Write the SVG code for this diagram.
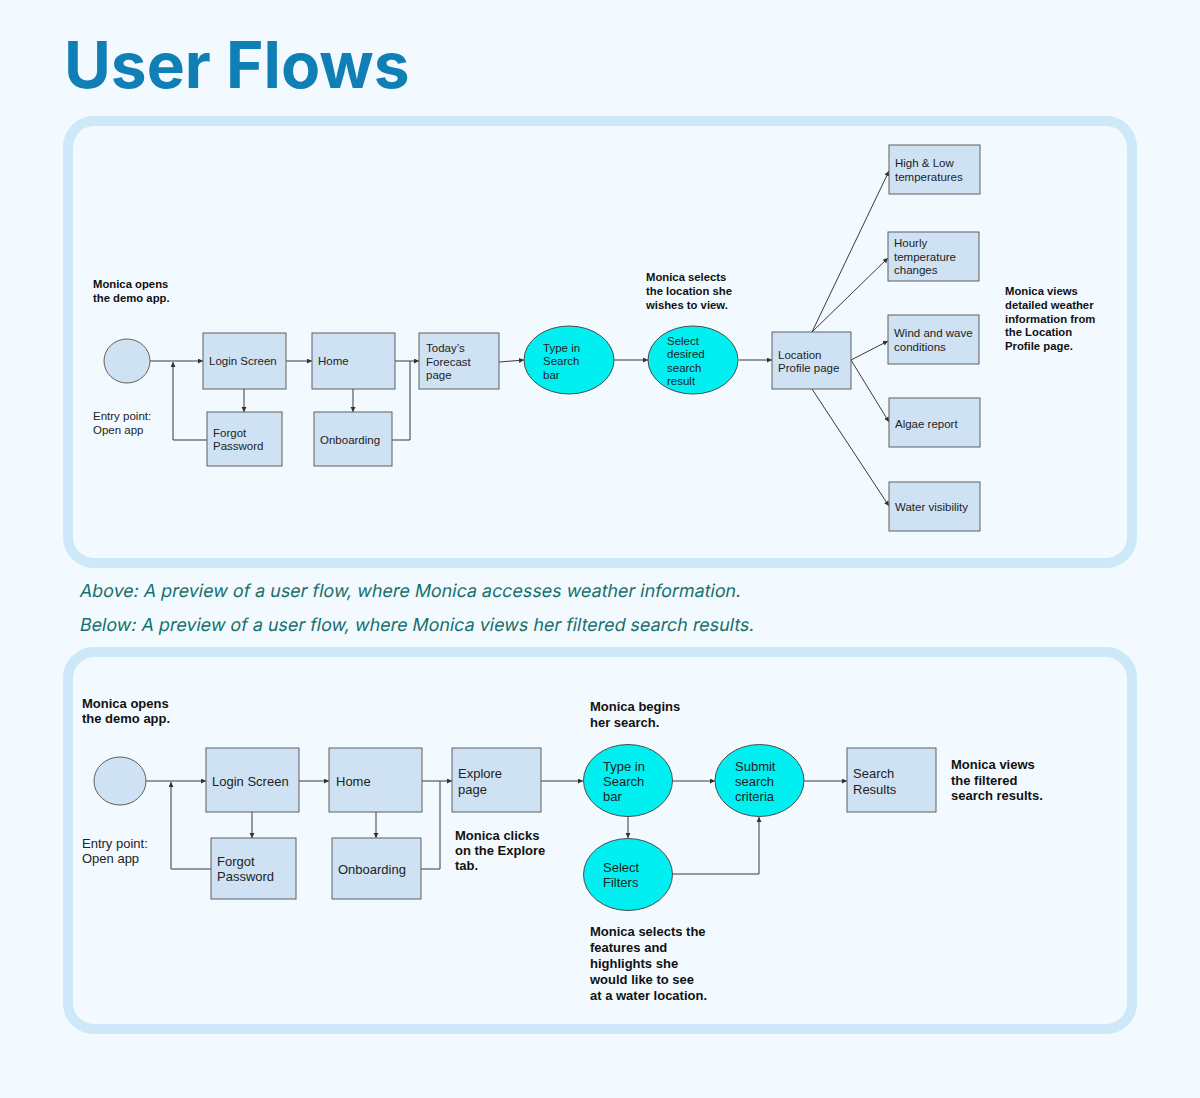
<svg xmlns="http://www.w3.org/2000/svg" width="1200" height="1098" viewBox="0 0 1200 1098">
<defs>
<marker id="arr" markerUnits="userSpaceOnUse" markerWidth="6" markerHeight="6" refX="5" refY="2.5" orient="auto">
<path d="M0,0 L5,2.5 L0,5 z" fill="#333"/>
</marker>
<style>
.panel{fill:#f3faff;stroke:#cde8f6;stroke-width:10}
.box{fill:#cfe2f3;stroke:#5f5f5f;stroke-width:1}
.oval{fill:#00f0f2;stroke:#4a4a4a;stroke-width:1}
.start{fill:#cfe2f3;stroke:#5f5f5f;stroke-width:1}
.c{fill:none;stroke:#3a3a3a;stroke-width:1}
.ca{fill:none;stroke:#3a3a3a;stroke-width:1;marker-end:url(#arr)}
.t{font-family:"Liberation Sans",Arial,sans-serif;font-size:11.5px;fill:#222}
.tb{font-family:"Liberation Sans",Arial,sans-serif;font-size:11.3px;font-weight:bold;fill:#111}
.t2{font-family:"Liberation Sans",Arial,sans-serif;font-size:13px;fill:#222}
.tb2{font-family:"Liberation Sans",Arial,sans-serif;font-size:13px;font-weight:bold;fill:#111}
.cap{font-family:Inter,"Noto Sans",sans-serif;font-size:17.9px;fill:#17706c}
</style>
</defs>
<rect width="1200" height="1098" fill="#f3faff"/>
<text x="64" y="88" font-family="Inter,'Noto Sans',sans-serif" font-size="64" font-weight="bold" fill="#107fb5">User Flows</text>

<rect class="panel" x="68" y="121" width="1064" height="442" rx="26"/>
<rect class="panel" x="68" y="652" width="1064" height="377" rx="26"/>

<text class="cap" transform="translate(79,597) skewX(-11)">Above: A preview of a user flow, where Monica accesses weather information.</text>
<text class="cap" transform="translate(79,631) skewX(-11)">Below: A preview of a user flow, where Monica views her filtered search results.</text>

<!-- Top flow connectors -->
<g id="connectors-top">
<path class="ca" d="M149,361 H203"/>
<path class="ca" d="M207,440 H173 V362"/>
<path class="ca" d="M286,361 H312"/>
<path class="ca" d="M244,389 V412"/>
<path class="ca" d="M395,361 H419"/>
<path class="ca" d="M353,389 V412"/>
<path class="c" d="M392,440 H410 V361"/>
<path class="ca" d="M499,362 L524,360"/>
<path class="ca" d="M614,360 H648"/>
<path class="ca" d="M739,360 H772"/>
<path class="ca" d="M812,332 L889,171"/>
<path class="ca" d="M812,332 L888,258"/>
<path class="ca" d="M851,360 L888,341"/>
<path class="ca" d="M851,360 L889,422"/>
<path class="ca" d="M812,389 L889,506"/>
</g>

<g id="t-start"><ellipse class="start" cx="127" cy="361" rx="23" ry="22"/></g>
<g id="t-note-open"><text class="tb" x="93" y="288">Monica opens</text><text class="tb" x="93" y="302">the demo app.</text></g>
<g id="t-note-entry"><text class="t" x="93" y="420">Entry point:</text><text class="t" x="93" y="434">Open app</text></g>
<g id="t-login"><rect class="box" x="203" y="333" width="83" height="56"/><text class="t" x="209" y="365">Login Screen</text></g>
<g id="t-home"><rect class="box" x="312" y="333" width="83" height="56"/><text class="t" x="318" y="365">Home</text></g>
<g id="t-forecast"><rect class="box" x="419" y="333" width="80" height="56"/><text class="t" x="426" y="352">Today’s</text><text class="t" x="426" y="366">Forecast</text><text class="t" x="426" y="379">page</text></g>
<g id="t-forgot"><rect class="box" x="207" y="412" width="75" height="54"/><text class="t" x="213" y="437">Forgot</text><text class="t" x="213" y="450">Password</text></g>
<g id="t-onboarding"><rect class="box" x="314" y="412" width="78" height="54"/><text class="t" x="320" y="444">Onboarding</text></g>
<g id="t-typein"><ellipse class="oval" cx="569" cy="360" rx="45" ry="34"/><text class="t" x="543" y="352">Type in</text><text class="t" x="543" y="365">Search</text><text class="t" x="543" y="379">bar</text></g>
<g id="t-select"><ellipse class="oval" cx="693" cy="360" rx="45" ry="34"/><text class="t" x="667" y="345">Select</text><text class="t" x="667" y="358">desired</text><text class="t" x="667" y="372">search</text><text class="t" x="667" y="385">result</text></g>
<g id="t-note-select"><text class="tb" x="646" y="281">Monica selects</text><text class="tb" x="646" y="295">the location she</text><text class="tb" x="646" y="309">wishes to view.</text></g>
<g id="t-location"><rect class="box" x="772" y="332" width="79" height="57"/><text class="t" x="778" y="359">Location</text><text class="t" x="778" y="372">Profile page</text></g>
<g id="t-highlow"><rect class="box" x="889" y="145" width="91" height="49"/><text class="t" x="895" y="167">High &amp; Low</text><text class="t" x="895" y="181">temperatures</text></g>
<g id="t-hourly"><rect class="box" x="888" y="232" width="91" height="49"/><text class="t" x="894" y="247">Hourly</text><text class="t" x="894" y="261">temperature</text><text class="t" x="894" y="274">changes</text></g>
<g id="t-wind"><rect class="box" x="888" y="315" width="91" height="49"/><text class="t" x="894" y="337">Wind and wave</text><text class="t" x="894" y="351">conditions</text></g>
<g id="t-algae"><rect class="box" x="889" y="398" width="91" height="49"/><text class="t" x="895" y="428">Algae report</text></g>
<g id="t-water"><rect class="box" x="889" y="482" width="91" height="49"/><text class="t" x="895" y="511">Water visibility</text></g>
<g id="t-note-views"><text class="tb" x="1005" y="295">Monica views</text><text class="tb" x="1005" y="309">detailed weather</text><text class="tb" x="1005" y="323">information from</text><text class="tb" x="1005" y="336">the Location</text><text class="tb" x="1005" y="350">Profile page.</text></g>

<!-- Bottom flow connectors -->
<g id="connectors-bottom">
<path class="ca" d="M146,781 H206"/>
<path class="ca" d="M211,869 H171 V782"/>
<path class="ca" d="M299,781 H329"/>
<path class="ca" d="M252,812 V838"/>
<path class="ca" d="M422,781 H452"/>
<path class="ca" d="M376,812 V838"/>
<path class="c" d="M421,869 H440 V781"/>
<path class="ca" d="M541,781 H583"/>
<path class="ca" d="M672,781 H715"/>
<path class="ca" d="M804,781 H847"/>
<path class="ca" d="M628,817 V838"/>
<path class="ca" d="M672,874 H759 V817"/>
</g>

<g id="b-start"><ellipse class="start" cx="120" cy="781" rx="26" ry="24"/></g>
<g id="b-note-open"><text class="tb2" x="82" y="708">Monica opens</text><text class="tb2" x="82" y="723">the demo app.</text></g>
<g id="b-note-entry"><text class="t2" x="82" y="848">Entry point:</text><text class="t2" x="82" y="863">Open app</text></g>
<g id="b-login"><rect class="box" x="206" y="748" width="93" height="64"/><text class="t2" x="212" y="786">Login Screen</text></g>
<g id="b-home"><rect class="box" x="329" y="748" width="93" height="64"/><text class="t2" x="336" y="786">Home</text></g>
<g id="b-explore"><rect class="box" x="452" y="748" width="89" height="64"/><text class="t2" x="458" y="778">Explore</text><text class="t2" x="458" y="794">page</text></g>
<g id="b-forgot"><rect class="box" x="211" y="838" width="85" height="61"/><text class="t2" x="217" y="866">Forgot</text><text class="t2" x="217" y="881">Password</text></g>
<g id="b-onboarding"><rect class="box" x="332" y="838" width="89" height="61"/><text class="t2" x="338" y="874">Onboarding</text></g>
<g id="b-note-explore"><text class="tb2" x="455" y="840">Monica clicks</text><text class="tb2" x="455" y="855">on the Explore</text><text class="tb2" x="455" y="870">tab.</text></g>
<g id="b-note-begins"><text class="tb2" x="590" y="711">Monica begins</text><text class="tb2" x="590" y="727">her search.</text></g>
<g id="b-typein"><ellipse class="oval" cx="628" cy="780.5" rx="44.5" ry="36"/><text class="t2" x="603" y="771">Type in</text><text class="t2" x="603" y="786">Search</text><text class="t2" x="603" y="801">bar</text></g>
<g id="b-submit"><ellipse class="oval" cx="759.5" cy="780.5" rx="44.5" ry="36"/><text class="t2" x="735" y="771">Submit</text><text class="t2" x="735" y="786">search</text><text class="t2" x="735" y="801">criteria</text></g>
<g id="b-filters"><ellipse class="oval" cx="628" cy="874.5" rx="44.5" ry="36"/><text class="t2" x="603" y="872">Select</text><text class="t2" x="603" y="887">Filters</text></g>
<g id="b-results"><rect class="box" x="847" y="748" width="89" height="64"/><text class="t2" x="853" y="778">Search</text><text class="t2" x="853" y="794">Results</text></g>
<g id="b-note-views"><text class="tb2" x="951" y="769">Monica views</text><text class="tb2" x="951" y="785">the filtered</text><text class="tb2" x="951" y="800">search results.</text></g>
<g id="b-note-filters"><text class="tb2" x="590" y="936">Monica selects the</text><text class="tb2" x="590" y="952">features and</text><text class="tb2" x="590" y="968">highlights she</text><text class="tb2" x="590" y="984">would like to see</text><text class="tb2" x="590" y="1000">at a water location.</text></g>
</svg>
